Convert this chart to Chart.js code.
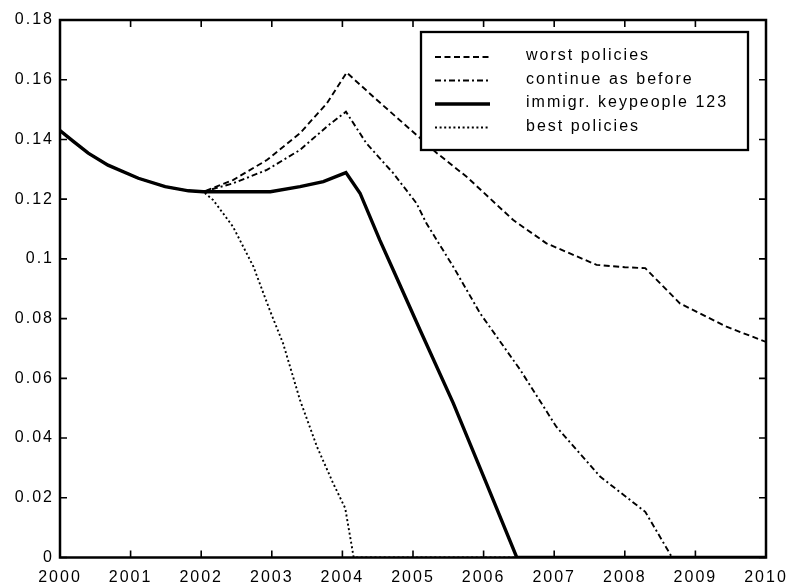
<!DOCTYPE html>
<html>
<head>
<meta charset="utf-8">
<script src="https://cdn.jsdelivr.net/npm/chart.js@4/dist/chart.umd.min.js"></script>
<style>
  html, body { margin: 0; padding: 0; background: #fff; }
  #wrap { width: 789px; height: 585px; }
</style>
</head>
<body>
<div id="wrap"><canvas id="c" width="789" height="585"></canvas></div>
<script>
// Shared start of all four scenarios (2000 until the policies diverge)
const commonYears  = [2000, 2000.18, 2000.40, 2000.68, 2001.11, 2001.49, 2001.82, 2002.03];
const commonValues = [0.143, 0.1395, 0.1354, 0.1314, 0.1270, 0.1242, 0.1228, 0.1225];

// worst policies
const worstYears  = [2002.45, 2002.93, 2003.40, 2003.78, 2004.06, 2004.49, 2005.05, 2005.34, 2005.76, 2006.42, 2006.89, 2007.60, 2008.00, 2008.29, 2008.78, 2009.44, 2010];
const worstValues = [0.1264, 0.1331, 0.1421, 0.1521, 0.1624, 0.1532, 0.1415, 0.1354, 0.1275, 0.1130, 0.1052, 0.0980, 0.0972, 0.0969, 0.0851, 0.0773, 0.0722];

// continue as before
const contYears  = [2002.45, 2002.93, 2003.40, 2003.78, 2004.05, 2004.34, 2004.72, 2005.05, 2005.19, 2005.57, 2005.95, 2006.52, 2007.03, 2007.65, 2008.29, 2008.67, 2010];
const contValues = [0.1253, 0.1298, 0.1365, 0.1443, 0.1493, 0.1387, 0.1287, 0.1186, 0.1119, 0.0974, 0.0818, 0.0628, 0.0438, 0.0271, 0.0153, 0, 0];

// immigr. keypeople 123
const keyYears  = [2002.98, 2003.40, 2003.73, 2004.05, 2004.25, 2004.53, 2004.72, 2005.10, 2005.57, 2006.04, 2006.47, 2010];
const keyValues = [0.1225, 0.1242, 0.1259, 0.1289, 0.1220, 0.1063, 0.0963, 0.0762, 0.0517, 0.0248, 0, 0];

// best policies
const bestYears  = [2002.17, 2002.45, 2002.74, 2002.97, 2003.16, 2003.40, 2003.64, 2003.87, 2004.04, 2004.16, 2010];
const bestValues = [0.1197, 0.1108, 0.0974, 0.0829, 0.0717, 0.0527, 0.0371, 0.0248, 0.0165, 0, 0];

const seriesLabels = ['worst policies', 'continue as before', 'immigr. keypeople 123', 'best policies'];
const xTicks = [2000, 2001, 2002, 2003, 2004, 2005, 2006, 2007, 2008, 2009, 2010];
const yTicks = [0, 0.02, 0.04, 0.06, 0.08, 0.1, 0.12, 0.14, 0.16, 0.18];

function toPoints(years, values) {
  const xs = commonYears.concat(years);
  const ys = commonValues.concat(values);
  return xs.map((x, i) => ({ x: x, y: ys[i] }));
}

const FONT = 'Liberation Sans, Arial, Helvetica, sans-serif';
const SPACING = '2px';

// wide letter spacing for all canvas text
const spacingPlugin = {
  id: 'spacing',
  beforeLayout(chart) { chart.ctx.letterSpacing = SPACING; },
  beforeDraw(chart) { chart.ctx.letterSpacing = SPACING; }
};

// boxed frame with inward ticks on all four sides
const framePlugin = {
  id: 'frame',
  afterDatasetsDraw(chart) {
    const { ctx, chartArea: a, scales } = chart;
    const len = 7;
    ctx.save();
    ctx.strokeStyle = '#000';
    ctx.lineWidth = 1.6;
    ctx.setLineDash([]);
    ctx.beginPath();
    xTicks.forEach(v => {
      const px = scales.x.getPixelForValue(v);
      ctx.moveTo(px, a.bottom); ctx.lineTo(px, a.bottom - len);
      ctx.moveTo(px, a.top); ctx.lineTo(px, a.top + len);
    });
    yTicks.forEach(v => {
      const py = scales.y.getPixelForValue(v);
      ctx.moveTo(a.left, py); ctx.lineTo(a.left + len, py);
      ctx.moveTo(a.right, py); ctx.lineTo(a.right - len, py);
    });
    ctx.stroke();
    ctx.lineWidth = 2.5;
    ctx.strokeRect(a.left, a.top, a.right - a.left, a.bottom - a.top);
    ctx.restore();
  }
};

// legend box in the upper right of the plot
const boxLegendPlugin = {
  id: 'boxLegend',
  afterDraw(chart) {
    const { ctx, chartArea: a } = chart;
    const left = a.left + 361, top = a.top + 12, right = a.right - 18, bottom = a.top + 130;
    ctx.save();
    ctx.fillStyle = '#fff';
    ctx.fillRect(left, top, right - left, bottom - top);
    ctx.strokeStyle = '#000';
    ctx.lineWidth = 2.3;
    ctx.setLineDash([]);
    ctx.strokeRect(left, top, right - left, bottom - top);
    ctx.font = '16px ' + FONT;
    ctx.letterSpacing = SPACING;
    ctx.textBaseline = 'middle';
    ctx.textAlign = 'left';
    chart.data.datasets.forEach((ds, i) => {
      const y = top + 25 + i * 23.5;
      ctx.strokeStyle = ds.borderColor;
      ctx.lineWidth = ds.borderWidth;
      ctx.setLineDash(ds.borderDash || []);
      ctx.beginPath();
      ctx.moveTo(left + 14, y);
      ctx.lineTo(left + 69, y);
      ctx.stroke();
      ctx.fillStyle = '#000';
      ctx.fillText(ds.label, left + 105, y - 1);
    });
    ctx.restore();
  }
};

const common = { borderColor: '#000', backgroundColor: '#000', pointRadius: 0, fill: false, tension: 0 };

new Chart(document.getElementById('c'), {
  type: 'line',
  data: {
    datasets: [
      Object.assign({ label: seriesLabels[0], data: toPoints(worstYears, worstValues), borderWidth: 1.9, borderDash: [6, 3.5] }, common),
      Object.assign({ label: seriesLabels[1], data: toPoints(contYears, contValues), borderWidth: 1.9, borderDash: [6, 3, 2, 3] }, common),
      Object.assign({ label: seriesLabels[2], data: toPoints(keyYears, keyValues), borderWidth: 3.4, borderDash: [] }, common),
      Object.assign({ label: seriesLabels[3], data: toPoints(bestYears, bestValues), borderWidth: 1.9, borderDash: [2, 2.6] }, common)
    ]
  },
  options: {
    responsive: false,
    animation: false,
    events: [],
    layout: { padding: { left: 0, top: 20, right: 23, bottom: 0 } },
    plugins: { legend: { display: false }, tooltip: { enabled: false } },
    scales: {
      x: {
        type: 'linear', min: 2000, max: 2010,
        afterBuildTicks: s => { s.ticks = xTicks.map(v => ({ value: v })); },
        afterFit: s => { s.height = 27.5; s.paddingLeft = 0; s.paddingRight = 0; },
        grid: { display: false, drawTicks: false },
        border: { display: false },
        ticks: { color: '#000', font: { family: FONT, size: 16 }, padding: 10, maxRotation: 0, callback: v => String(v) }
      },
      y: {
        type: 'linear', min: 0, max: 0.18,
        afterBuildTicks: s => { s.ticks = yTicks.map(v => ({ value: v })); },
        afterFit: s => { s.width = 60; s.paddingTop = 0; s.paddingBottom = 0; },
        grid: { display: false, drawTicks: false },
        border: { display: false },
        ticks: { color: '#000', font: { family: FONT, size: 16 }, padding: 6, callback: v => String(+v.toFixed(2)) }
      }
    }
  },
  plugins: [spacingPlugin, framePlugin, boxLegendPlugin]
});
</script>
</body>
</html>
